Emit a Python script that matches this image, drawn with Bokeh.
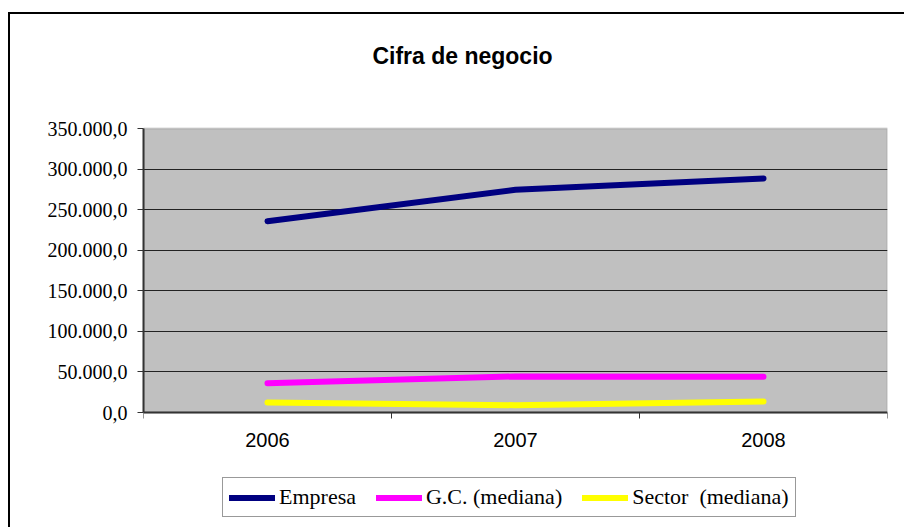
from bokeh.plotting import figure
from bokeh.models import (Range1d, LinearAxis, FixedTicker, InlineStyleSheet, BoxAnnotation,
                          Legend, LegendItem, Grid, ColumnDataSource, Label)
from bokeh.embed import file_html
from bokeh.resources import INLINE

years = ["2006", "2007", "2008"]
empresa = [235800, 274400, 288400]
gc_mediana = [36200, 44400, 44000]
sector_mediana = [12300, 9000, 13600]

y_ticks = [0, 50000, 100000, 150000, 200000, 250000, 300000, 350000]
y_tick_labels = ["0,0", "50.000,0", "100.000,0", "150.000,0", "200.000,0",
                 "250.000,0", "300.000,0", "350.000,0"]

series_names = ["Empresa", "G.C. (mediana)", "Sector  (mediana)"]
series_values = [empresa, gc_mediana, sector_mediana]
series_colors = ["#000080", "#FF00FF", "#FFFF00"]

title_text = "Cifra de negocio"

# layout (pixels): plot area top 128, bottom 412 inside a 527px-tall canvas
W, H = 904, 527
AREA_TOP, AREA_BOTTOM = 128, 412
px_per_unit = (AREA_BOTTOM - AREA_TOP) / (y_ticks[-1] - y_ticks[0])
y_lo = y_ticks[0] - (H - AREA_BOTTOM) / px_per_unit
y_hi = y_ticks[-1] + AREA_TOP / px_per_unit

# category slots: each year occupies one unit, centred at index + 0.5
x_centres = [i + 0.5 for i in range(len(years))]
x_bounds = list(range(len(years) + 1))

p = figure(width=W, height=H,
           x_range=Range1d(0, len(years)),
           y_range=Range1d(y_lo, y_hi),
           output_backend="svg", toolbar_location=None,
           x_axis_location=None, y_axis_location=None,
           min_border_left=143, min_border_right=17,
           min_border_top=0, min_border_bottom=0)

# remove default grids
p.center = [r for r in p.center if not isinstance(r, Grid)]

p.background_fill_color = "white"
p.border_fill_color = "white"
p.outline_line_color = None

# grey plot area
p.add_layout(BoxAnnotation(left=0, right=len(years), bottom=y_ticks[0], top=y_ticks[-1],
                           fill_color="#C0C0C0", fill_alpha=1,
                           line_color="#808080", line_width=2, level="image"))

tick_axis = LinearAxis(ticker=FixedTicker(ticks=x_bounds),
                       fixed_location=y_ticks[0],
                       major_label_overrides={b: "" for b in x_bounds},
                       major_label_text_font_size="1px",
                       major_label_standoff=0,
                       major_tick_in=0, major_tick_out=6,
                       minor_tick_line_color=None,
                       axis_line_color="#333333", axis_line_width=2,
                       major_tick_line_color="#333333")
p.add_layout(tick_axis, "below")

cat_axis = LinearAxis(ticker=FixedTicker(ticks=x_centres),
                      fixed_location=y_ticks[0],
                      major_label_overrides={c: y for c, y in zip(x_centres, years)},
                      axis_line_color=None, major_tick_line_color=None,
                      minor_tick_line_color=None,
                      major_label_text_font="Liberation Sans",
                      major_label_text_font_size="20px",
                      major_label_text_color="black",
                      major_label_standoff=14)
p.add_layout(cat_axis, "below")

y_ticker = FixedTicker(ticks=y_ticks)
y_axis = LinearAxis(ticker=y_ticker, bounds=(y_ticks[0], y_ticks[-1]),
                    major_label_overrides={t: l for t, l in zip(y_ticks, y_tick_labels)},
                    major_label_text_font="Liberation Serif",
                    major_label_text_font_size="20px",
                    major_label_text_color="black",
                    major_label_standoff=10,
                    major_tick_in=0, major_tick_out=6,
                    minor_tick_line_color=None,
                    axis_line_color="#333333", axis_line_width=2,
                    major_tick_line_color="#333333")
p.add_layout(y_axis, "left")

p.add_layout(Grid(dimension=1, ticker=FixedTicker(ticks=y_ticks[1:-1]),
                  grid_line_color="#222222", grid_line_width=1))

items = []
for name, vals, col in zip(series_names, series_values, series_colors):
    src = ColumnDataSource(dict(x=x_centres, y=vals))
    r = p.line("x", "y", source=src, line_color=col, line_width=6,
               line_cap="round", line_join="round")
    items.append(LegendItem(label=name, renderers=[r]))

legend = Legend(items=items, orientation="horizontal", location=(79, 10),
                glyph_width=46, glyph_height=23, label_standoff=4, spacing=20,
                padding=6, margin=0, border_line_color="#333333", border_line_width=1,
                label_text_font="Liberation Serif", label_text_font_size="22px",
                label_text_color="black",
                background_fill_color="white", background_fill_alpha=1)
p.add_layout(legend)

p.add_layout(Label(x=319, y=H - 55, x_units="screen", y_units="screen", text=title_text,
                   text_font="Liberation Sans", text_font_style="bold",
                   text_font_size="23px", text_align="center", text_baseline="middle",
                   text_color="black"))

p.stylesheets = [InlineStyleSheet(css="""
:host::after {
  content: '';
  position: absolute;
  left: 8px; top: 12px; right: 0px; bottom: 0px;
  border-left: 2px solid black;
  border-top: 2px solid black;
  pointer-events: none;
}
""")]

open("out.html", "w").write(file_html(p, INLINE))
